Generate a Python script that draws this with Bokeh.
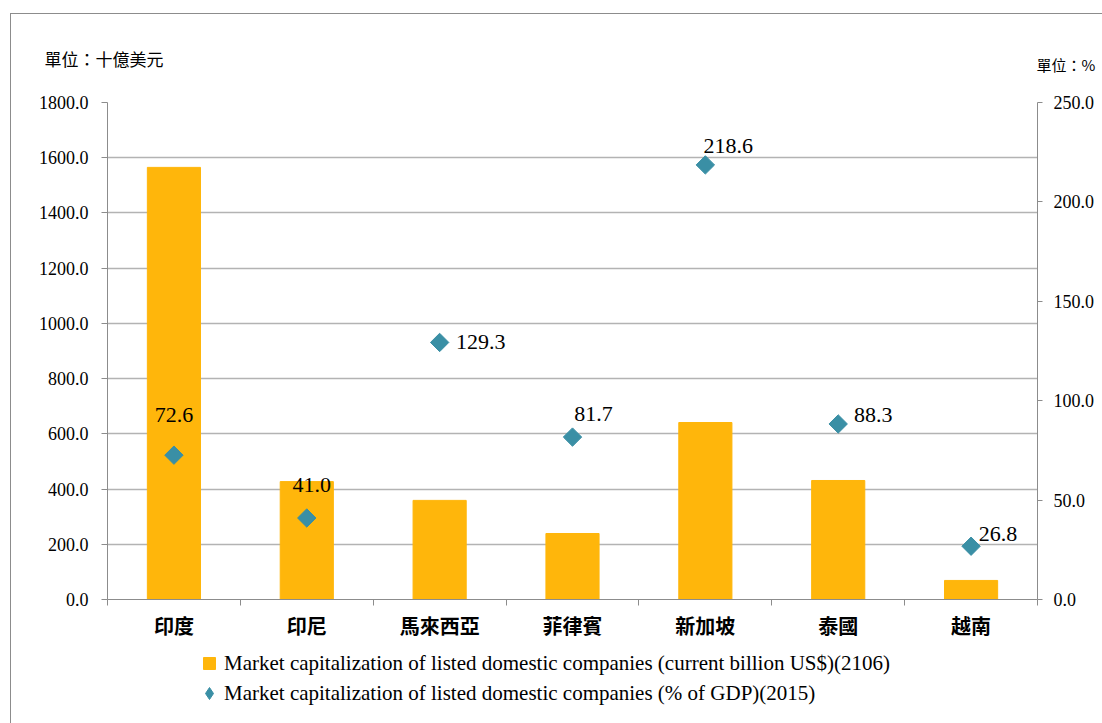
from bokeh.plotting import figure
from bokeh.layouts import column
from bokeh.models import (Range1d, LinearAxis, FixedTicker, NumeralTickFormatter,
                          ColumnDataSource, Legend, LegendItem, Title, Grid)
from bokeh.core.properties import value
from bokeh.embed import file_html
from bokeh.resources import INLINE
import math

# ---- data ----
categories = ["印度", "印尼", "馬來西亞", "菲律賓", "新加坡", "泰國", "越南"]
market_cap_busd = [1565, 427, 359, 239, 641, 431, 69]          # billion US$ (2106)
market_cap_gdp = [72.6, 41.0, 129.3, 81.7, 218.6, 88.3, 26.8]  # % of GDP (2015)
left_ticks = [0, 200, 400, 600, 800, 1000, 1200, 1400, 1600, 1800]
right_ticks = [0, 50, 100, 150, 200, 250]
bar_label = "Market capitalization of listed domestic companies (current billion US$)(2106)"
pt_label = "Market capitalization of listed domestic companies (% of GDP)(2015)"
unit_left = "單位：十億美元"
unit_right = "單位：%"

# label offsets (styling, screen px)
lab_dx = [0, 5, 41, 21, 23, 35, 27]
lab_dy = [-40, -33, 0, -23, -19, -9, -12]

BAR = "#FFB60B"
TEAL = "#3A8FA5"
GRID = "#B3B3B3"
AX = "#8C8C8C"
SERIF = "'Liberation Serif'"
CJK = "'Noto Sans CJK TC'"

n = len(categories)
centers = [i + 0.5 for i in range(n)]
bounds = [i for i in range(n + 1)]

p = figure(width=1092, height=635, output_backend="svg", toolbar_location=None,
           x_range=Range1d(0, n), y_range=Range1d(0, 1800), title=None,
           min_border_left=96, min_border_right=66, min_border_top=88, min_border_bottom=50,
           x_axis_type=None, y_axis_type=None)
p.margin = (13, 0, 0, 10)
p.styles = {"border-top": f"1px solid {AX}", "border-left": f"1px solid {AX}"}
p.outline_line_color = None
p.background_fill_color = "white"
p.border_fill_color = "white"

p.extra_y_ranges = {"pct": Range1d(0, 250)}

# left axis
yl = LinearAxis(ticker=FixedTicker(ticks=left_ticks, minor_ticks=[]),
                formatter=NumeralTickFormatter(format="0.0"))
yl.axis_line_color = AX
yl.major_tick_line_color = AX
yl.major_tick_out = 6
yl.major_tick_in = 0
yl.major_label_standoff = 13
yl.major_label_text_font = SERIF
yl.major_label_text_font_size = "18px"
yl.major_label_text_color = "black"
p.add_layout(yl, "left")

# right axis
yr = LinearAxis(y_range_name="pct", ticker=FixedTicker(ticks=right_ticks, minor_ticks=[]),
                formatter=NumeralTickFormatter(format="0.0"))
yr.axis_line_color = AX
yr.major_tick_line_color = AX
yr.major_tick_out = 5
yr.major_tick_in = 0
yr.major_label_standoff = 11
yr.major_label_text_font = SERIF
yr.major_label_text_font_size = "18px"
yr.major_label_text_color = "black"
p.add_layout(yr, "right")

# bottom axis
xb = LinearAxis(ticker=FixedTicker(ticks=centers, minor_ticks=bounds))
xb.major_label_overrides = {c: lab for c, lab in zip(centers, categories)}
xb.axis_line_color = AX
xb.major_tick_line_color = None
xb.major_tick_out = 0
xb.major_tick_in = 0
xb.minor_tick_line_color = AX
xb.minor_tick_out = 6
xb.minor_tick_in = 0
xb.major_label_standoff = 5
xb.major_label_text_font = CJK
xb.major_label_text_font_style = "bold"
xb.major_label_text_font_size = "20px"
xb.major_label_text_color = "black"
p.add_layout(xb, "below")

# grid
g = Grid(dimension=1, ticker=yl.ticker, grid_line_color=GRID, grid_line_width=1.5)
p.add_layout(g)

src = ColumnDataSource(dict(x=centers, cap=market_cap_busd, gdp=market_cap_gdp,
                            lab=[f"{v:.1f}" for v in market_cap_gdp], dx=lab_dx, dy=lab_dy))

bars = p.vbar(x="x", top="cap", width=0.4, source=src, fill_color=BAR, line_color=BAR)
pts = p.scatter(x="x", y="gdp", source=src, y_range_name="pct", marker="square",
                angle=math.pi / 4, size=13, fill_color=TEAL, line_color=TEAL)
p.text(x="x", y="gdp", text="lab", source=src, y_range_name="pct",
       x_offset="dx", y_offset="dy", text_align="center", text_baseline="middle",
       text_font=value(SERIF), text_font_size="22px", text_color="black")

t_right = Title(text=unit_right, align="left", offset=929, text_font=CJK,
                text_font_size="15px", text_font_style="normal", text_color="black",
                standoff=55, text_line_height=0.3)
t_left = Title(text=unit_left, align="left", offset=-63, text_font=CJK,
               text_font_size="17px", text_font_style="normal", text_color="black",
               standoff=-93)
p.add_layout(t_right, "above")
p.add_layout(t_left, "above")

# ---- legend strip ----
leg = figure(width=1092, height=75, output_backend="svg", toolbar_location=None,
             x_range=Range1d(0, 1), y_range=Range1d(0, 1), title=None,
             min_border_left=0, min_border_right=0, min_border_top=0, min_border_bottom=0,
             x_axis_type=None, y_axis_type=None)
leg.margin = (0, 0, 0, 10)
leg.styles = {"border-left": f"1px solid {AX}"}
leg.outline_line_color = None
leg.xgrid.visible = False
leg.ygrid.visible = False
off = dict(x=[-10], y=[-10])  # legend-only swatches, placed outside the visible range
lb = leg.scatter(x="x", y="y", source=ColumnDataSource(off), marker="square", size=12,
                 fill_color=BAR, line_color=BAR)
lp = leg.scatter(x="x", y="y", source=ColumnDataSource(dict(off)), marker="diamond",
                 size=12, fill_color=TEAL, line_color=TEAL)
legend = Legend(items=[LegendItem(label=bar_label, renderers=[lb]),
                       LegendItem(label=pt_label, renderers=[lp])],
                location=(87, 15), orientation="vertical")
legend.padding = 0
legend.margin = 0
legend.border_line_color = None
legend.background_fill_alpha = 0
legend.label_text_font = SERIF
legend.label_text_font_size = "21px"
legend.label_text_color = "black"
legend.glyph_width = 30
legend.glyph_height = 30
legend.label_standoff = -4
legend.spacing = 0
legend.label_height = 22
leg.add_layout(legend, "center")

layout = column(p, leg, spacing=0)
open("out.html", "w").write(file_html(layout, INLINE))
